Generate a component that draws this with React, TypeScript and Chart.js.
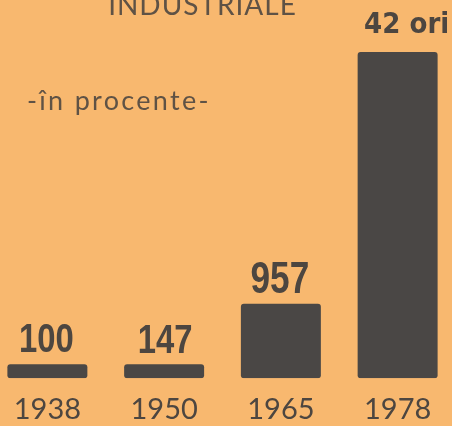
import React, { useEffect, useRef } from "react";
import { Chart, registerables } from "chart.js";

Chart.register(...registerables);

// ---- data ----
const categories = ["1938", "1950", "1965", "1978"];
const values = [100, 147, 957, 4200];
const valueLabels = ["100", "147", "957", "42 ori"];
const titleText = "INDUSTRIALE";
const subtitleText = "-în procente-";

// ---- styles ----
const BG = "#f8b86f";
const INK = "#4d4640";
const BAR = "#4a4745";
const TITLE_INK = "#5f5245";
const BOLD = "'Liberation Sans', Arial, sans-serif";
const labelFonts = [
  `bold 40px ${BOLD}`,
  `bold 40px ${BOLD}`,
  `bold 44px ${BOLD}`,
  "bold 29px 'DejaVu Sans Condensed', 'DejaVu Sans', sans-serif",
];
const labelScaleX = [0.82, 0.82, 0.8, 1];
const labelGaps = [12, 11, 11, 19];
const labelDx = [-1, 1, -1, 9];
const CANVAS_LEFT = -11;
const CANVAS_W = 467;
const CANVAS_H = 441;

const textPlugin = {
  id: "extraTexts",
  afterDatasetsDraw(chart: any) {
    const ctx = chart.ctx as CanvasRenderingContext2D;
    const meta = chart.getDatasetMeta(0);
    ctx.save();
    ctx.fillStyle = INK;
    ctx.textAlign = "center";
    ctx.textBaseline = "alphabetic";
    meta.data.forEach((bar: any, i: number) => {
      ctx.save();
      ctx.font = labelFonts[i];
      ctx.translate(bar.x + labelDx[i], bar.y - labelGaps[i]);
      ctx.scale(labelScaleX[i], 1);
      ctx.fillText(valueLabels[i], 0, 0);
      ctx.restore();
    });
    ctx.fillStyle = TITLE_INK;
    ctx.font = "28px Lato, 'Open Sans', sans-serif";
    (ctx as any).letterSpacing = "1px";
    ctx.fillText(titleText, 202.5 - CANVAS_LEFT, 15);
    ctx.textAlign = "left";
    ctx.font = "27px Lato, 'Open Sans', sans-serif";
    (ctx as any).letterSpacing = "2.3px";
    ctx.fillText(subtitleText, 27 - CANVAS_LEFT, 110);
    (ctx as any).letterSpacing = "0px";
    ctx.restore();
  },
};

export default function App() {
  const ref = useRef<HTMLCanvasElement | null>(null);

  useEffect(() => {
    if (!ref.current) return;
    const chart = new Chart(ref.current, {
      type: "bar",
      data: {
        labels: categories,
        datasets: [
          {
            data: values,
            backgroundColor: BAR,
            borderRadius: 3,
            borderSkipped: false,
            barPercentage: 0.685,
            categoryPercentage: 1,
            minBarLength: 14,
          },
        ],
      },
      options: {
        animation: false,
        responsive: false,
        maintainAspectRatio: false,
        layout: { padding: { top: 52, bottom: 0, left: 0, right: 0 } },
        plugins: {
          legend: { display: false },
          tooltip: { enabled: false },
          title: { display: false },
        },
        scales: {
          x: {
            grid: { display: false, drawTicks: false, tickLength: 0 },
            border: { display: false },
            ticks: {
              color: INK,
              font: { family: "Lato, 'Open Sans', sans-serif", size: 29 },
              padding: 14,
              maxRotation: 0,
              autoSkip: false,
            },
          },
          y: { display: false, min: 0, max: 4200 },
        },
      },
      plugins: [textPlugin],
    });
    return () => chart.destroy();
  }, []);

  return (
    <div style={{ position: "fixed", inset: 0, background: BG, overflow: "hidden" }}>
      <canvas
        ref={ref}
        width={CANVAS_W}
        height={CANVAS_H}
        style={{ position: "absolute", left: CANVAS_LEFT, top: 0, width: CANVAS_W, height: CANVAS_H }}
      />
    </div>
  );
}
